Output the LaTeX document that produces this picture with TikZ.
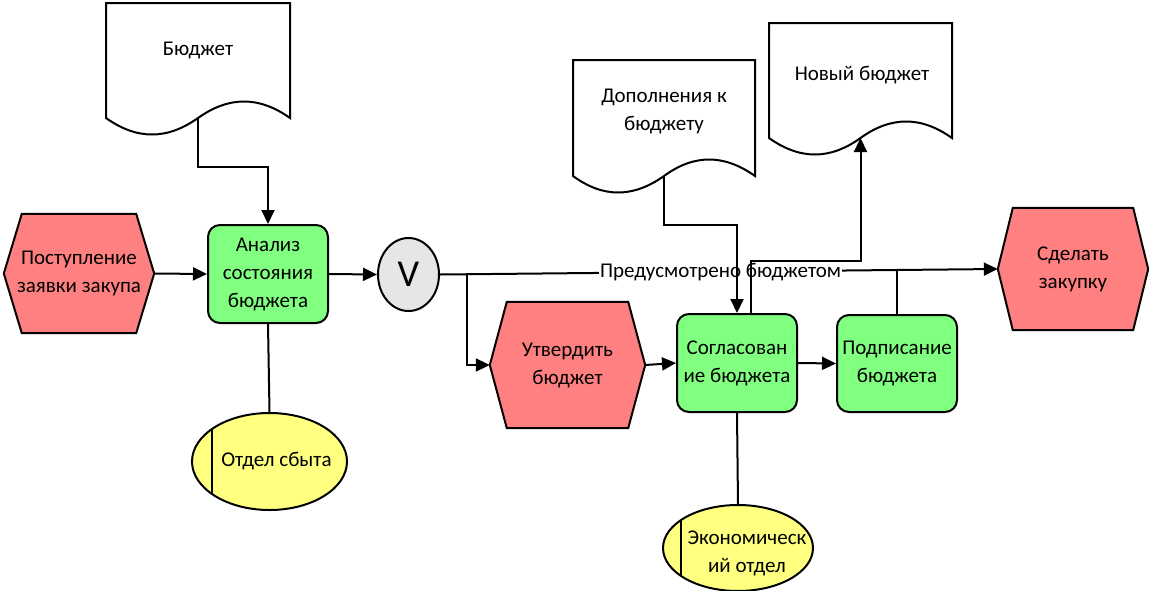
\documentclass[tikz,border=0pt]{standalone}
\usepackage{fontspec}
\setmainfont{Carlito}
\usetikzlibrary{shapes.geometric,arrows.meta,backgrounds}

\definecolor{evred}{HTML}{FF8080}
\definecolor{fngreen}{HTML}{80FF80}
\definecolor{orgyellow}{HTML}{FFFF80}
\definecolor{opgrey}{HTML}{E6E6E6}

\tikzset{
  lw/.style={line width=2pt},
  evtext/.style={draw=none, align=center, inner sep=0pt},
  evshape/.style={lw, fill=evred, line join=miter},
  fnbox/.style={lw, draw, fill=fngreen, rounded corners=12pt, align=center,
    minimum width=120pt, minimum height=98pt, inner sep=2pt},
  orgell/.style={lw, draw, ellipse, fill=orgyellow, inner sep=0pt,
    path picture={\draw[lw] ([xshift=#1]path picture bounding box.south west) --
      ([xshift=#1]path picture bounding box.north west);}},
  docshape/.style={lw, fill=white, line join=miter},
  doctext/.style={align=center, inner sep=0pt},
  conn/.style={lw},
  arr/.style={lw, -{Triangle[length=14pt,width=13pt]}},
}

% event hexagon drawn behind a named text node
\newcommand\evhex[2]{%
  \draw[evshape] (#1.west) -- ([xshift=#2]#1.north west) -- ([xshift=-#2]#1.north east)
    -- (#1.east) -- ([xshift=-#2]#1.south east) -- ([xshift=#2]#1.south west) -- cycle;}

\begin{document}
\begin{tikzpicture}[x=1pt, y=-1pt, font=\fontsize{21}{28}\selectfont]
\path[use as bounding box] (0,0) rectangle (1149,590);

% events (text nodes; outlines go on the background layer)
\node[evtext, minimum width=150pt, minimum height=119pt] (post) at (79,273.5) {Поступление\\заявки закупа};
\node[evtext, minimum width=155pt, minimum height=126pt] (utv) at (567.5,365) {Утвердить\\бюджет};
\node[evtext, minimum width=150pt, minimum height=122pt] (sdel) at (1073,269) {Сделать\\закупку};

\begin{pgfonlayer}{background}
  \fill[white] (0,0) rectangle (1149,590);
  \evhex{post}{18pt}
  \evhex{utv}{17pt}
  \evhex{sdel}{15pt}
\end{pgfonlayer}

% functions
\node[fnbox] (anal) at (268,274) {Анализ\\состояния\\бюджета};
\node[fnbox] (sogl) at (737,363) {Согласован\\ие бюджета};
\node[fnbox, minimum height=97pt] (podp) at (897,363.5) {Подписание\\бюджета};

% operator
\node[lw, draw, ellipse, fill=opgrey, minimum width=61pt, minimum height=73pt, inner sep=0pt,
  font=\fontsize{38}{40}\selectfont] (xor) at (408.5,274.5) {V};

% organisational units
\node[orgell=20pt, minimum width=155pt, minimum height=97pt,
  label={[xshift=7pt, align=center]center:Отдел сбыта}] (otd) at (269.5,461.5) {};
\node[orgell=18pt, minimum width=150pt, minimum height=86pt,
  label={[xshift=9pt, yshift=-5pt, align=center]center:Экономическ\\ий отдел}] (eko) at (738,548) {};

% documents
\draw[docshape] (106,3) -- (290,3) -- (290,118)
  .. controls (259,96) and (229,96) .. (198,118)
  .. controls (167,140) and (137,140) .. (106,118) -- cycle;
\coordinate (budw) at (198,118);
\node[doctext] (budt) at (198,50) {Бюджет};

\draw[docshape] (573,60) -- (755,60) -- (755,176)
  .. controls (724,154) and (694,154) .. (664,176)
  .. controls (633,198) and (603,198) .. (573,176) -- cycle;
\coordinate (dopw) at (664,176);
\node[doctext] (dopt) at (664,111) {Дополнения к\\бюджету};

\draw[docshape] (769,23) -- (952,23) -- (952,138)
  .. controls (921,116) and (891,116) .. (860.5,138)
  .. controls (830,160) and (800,160) .. (769,138) -- cycle;
\coordinate (novw) at (860.5,138);
\node[doctext] (novt) at (862,75) {Новый бюджет};

% control flow
\draw[arr] (post.east) -- (anal.west);
\draw[arr] (anal.east) -- (xor.west);
\draw[arr] (xor.east) -- node[fill=white, inner sep=1pt, pos=0.503] (cond) {Предусмотрено бюджетом} (sdel.west);
\coordinate (br) at (467,274);
\draw[arr] (br) |- (utv.west);
\draw[arr] (utv.east) -- (sogl.west);
\draw[arr] (sogl.east) -- (podp.west);
\draw[conn] (podp.north) -- (podp.north |- sdel.west);

% information flow
\draw[arr] (budw) -- ++(0,49) -| (anal.north);
\draw[arr] (dopw) -- ++(0,49) -| (sogl.north);
\draw[arr] ([xshift=14pt]sogl.north) -- ++(0,-52) -| (novw);

% responsibilities
\draw[conn] (anal.south) -- (otd.north);
\draw[conn] (sogl.south) -- (eko.north);
\end{tikzpicture}
\end{document}
